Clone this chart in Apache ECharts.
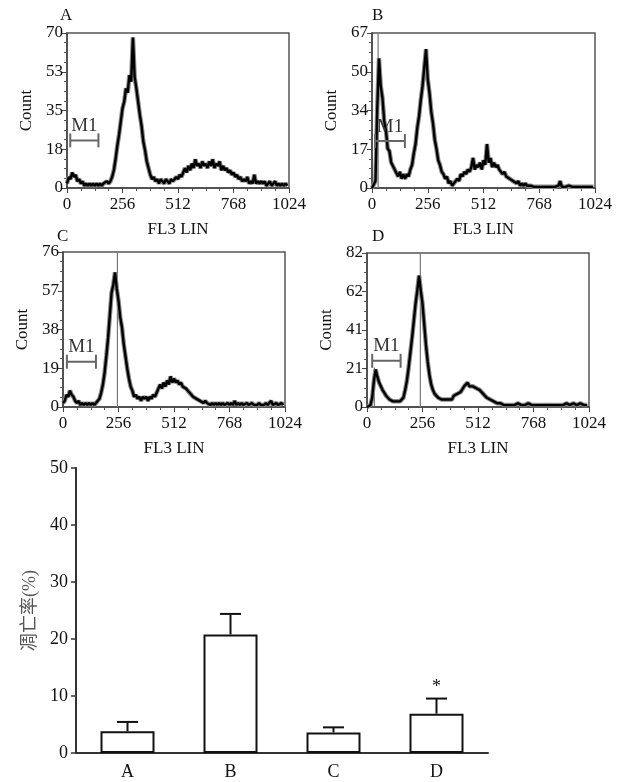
<!DOCTYPE html>
<html><head><meta charset="utf-8">
<script src="https://cdn.jsdelivr.net/npm/echarts@6.0.0/dist/echarts.min.js"></script>
<style>html,body{margin:0;padding:0;background:#fff}#c{width:625px;height:782px}</style>
</head><body><div id="c"></div><script>
// ---------- data ----------
const binStep = 8; // channel width of each histogram bin
const xTicks = [0, 256, 512, 768, 1024];
const countsA = [
2,5,4,7,5,6,3,4,2,3,1,2,1,2,1,2,
1,2,1,2,1,2,2,3,2,3,5,8,13,19,24,30,
36,39,45,43,51,48,68,50,45,39,33,28,21,17,12,9,
6,4,5,3,4,2,4,3,2,4,3,2,4,3,4,5,
4,6,5,7,9,7,10,8,11,9,13,10,11,9,12,10,
11,9,12,10,13,9,11,10,12,8,10,8,9,7,8,6,
7,5,6,4,5,3,4,3,5,2,3,2,6,2,3,2,
3,2,3,1,2,3,1,2,3,1,2,1,2,1,2,1];
const countsB = [
0,0,3,34,56,44,39,29,25,17,16,11,11,8,8,5,
7,4,6,4,6,5,8,10,15,19,26,31,38,44,52,60,
47,41,33,28,21,17,12,10,7,6,4,5,2,3,1,2,
2,4,3,6,5,7,6,8,7,9,13,8,10,9,11,8,
12,10,19,11,13,9,11,9,10,8,8,6,7,5,5,4,
4,3,3,2,3,1,2,1,2,1,1,1,1,0.5,1,0.5,
1,0.5,1,0.5,1,0.5,1,0.5,1,0.5,0.5,1,3,0.5,1,0.5,
0.5,1,0.5,0.5,1,0.5,0.5,0.5,1,0.5,0.5,0.5,0.5,0.5,0.5,0.5];
const countsC = [
2,3,6,5,8,6,5,3,2,3,1,2,1,2,1,2,
1,2,1,2,3,4,7,11,17,25,34,45,56,60,66,58,
52,44,39,31,25,19,14,10,8,5,6,4,5,3,5,4,
5,3,5,4,6,5,7,9,11,9,12,10,13,11,15,12,
14,12,13,11,12,10,10,9,8,7,7,5,5,4,4,3,
3,2,3,2,2,1,2,1,2,1,2,1,2,1,1,2,
1,2,1,3,1,2,1,2,1,1,2,1,1,2,1,1,
1,2,1,1,1,2,1,1,3,1,1,2,1,1,2,1];
const countsD = [
0,0,1,5,14,20,16,13,12,9,8,6,5,4,3,3,
2,3,2,3,3,5,9,14,21,29,37,46,55,62,70,62,
55,44,33,24,17,12,9,7,6,5,6,4,5,4,5,4,
5,4,6,5,7,6,8,9,11,10,13,11,12,11,12,10,
11,9,9,7,7,5,6,4,4,3,3,2,3,2,2,1,
2,1,2,1,2,1,1,2,1,1,2,1,1,2,1,1,
1,1,2,1,1,1,2,1,1,1,2,1,1,1,2,1,
1,1,1,2,1,1,1,2,1,1,1,2,1,1,2,1];
// off-scale single-channel spikes [channel, count]
const spikesA = [];
const spikesB = [[28, 67]];
const spikesC = [[251, 76]];
const spikesD = [[34, 21], [246, 82]];
// M1 gates [start, end] and level
const m1A = [15, 145], m1LevelA = 21.5;
const m1B = [14, 151], m1LevelB = 20.3;
const m1C = [18, 152], m1LevelC = 22.2;
const m1D = [24, 155], m1LevelD = 24.6;
const yMaxes = [70, 67, 76, 82];
const panelLetters = ['A', 'B', 'C', 'D'];

const categories = ['A', 'B', 'C', 'D'];
const rates = [3.8, 20.8, 3.6, 6.9];
const rateErr = [1.65, 3.6, 0.9, 2.65];
const sigMarks = ['', '', '', '*'];
const rateTicks = [0, 10, 20, 30, 40, 50];

// ---------- chart ----------
const SERIF = '"Liberation Serif","Times New Roman",serif';
const CJK = '"Liberation Serif","Noto Sans CJK SC",serif';
const grids = [
  {left: 67, top: 33, width: 222, height: 155},
  {left: 372, top: 33, width: 223, height: 155},
  {left: 63, top: 252, width: 222, height: 155},
  {left: 367, top: 253, width: 222, height: 154},
  {left: 76, top: 468, width: 412, height: 285}
];
const hist = [countsA, countsB, countsC, countsD];
const spikes = [spikesA, spikesB, spikesC, spikesD];
const m1s = [m1A, m1B, m1C, m1D];
const m1Levels = [m1LevelA, m1LevelB, m1LevelC, m1LevelD];

const xAxes = [], yAxes = [], series = [];
for (let k = 0; k < 4; k++) {
  xAxes.push({
    gridIndex: k, type: 'value', min: xTicks[0], max: xTicks[xTicks.length - 1],
    interval: xTicks[1] - xTicks[0],
    axisLine: {show: true, lineStyle: {color: '#444', width: 1.5}},
    axisTick: {show: true, length: 5, lineStyle: {color: '#444'}},
    minorTick: {show: true, splitNumber: 4, length: 3, lineStyle: {color: '#555'}},
    axisLabel: {fontFamily: SERIF, fontSize: 17, color: '#111', margin: 8,
      formatter: v => String(v)},
    splitLine: {show: false},
    name: 'FL3 LIN', nameLocation: 'middle', nameGap: 33,
    nameTextStyle: {fontFamily: SERIF, fontSize: 17, color: '#111'}
  });
  yAxes.push({
    gridIndex: k, type: 'value', min: 0, max: yMaxes[k], interval: yMaxes[k] / 4,
    axisLine: {show: true, lineStyle: {color: '#444', width: 1.5}},
    axisTick: {show: true, length: 5, lineStyle: {color: '#444'}},
    minorTick: {show: true, splitNumber: 4, length: 3, lineStyle: {color: '#555'}},
    axisLabel: {fontFamily: SERIF, fontSize: 17, color: '#111', margin: 4,
      formatter: v => String(Math.round(v))},
    splitLine: {show: false},
    name: 'Count', nameLocation: 'middle', nameGap: 32, nameRotate: 90,
    nameTextStyle: {fontFamily: SERIF, fontSize: 17, color: '#111'}
  });
  // soft grey fringe of the noisy histogram trace
  series.push({
    type: 'line', xAxisIndex: k, yAxisIndex: k, showSymbol: false, animation: false,
    data: hist[k].map((v, i) => [i * binStep, v]),
    lineStyle: {color: '#8a8a8a', width: 4.5}, z: 2
  });
  series.push({
    type: 'line', xAxisIndex: k, yAxisIndex: k, showSymbol: false, animation: false,
    data: hist[k].map((v, i) => [i * binStep, v]),
    lineStyle: {color: '#000', width: 2.4}, z: 3
  });
  series.push({
    type: 'bar', xAxisIndex: k, yAxisIndex: k, barWidth: 1.2, animation: false,
    data: spikes[k], itemStyle: {color: '#777'}, z: 2
  });
  const g = m1s[k], lv = m1Levels[k];
  series.push({
    type: 'line', xAxisIndex: k, yAxisIndex: k, animation: false,
    symbol: 'rect', symbolSize: [2, 14], showSymbol: true,
    itemStyle: {color: '#666'}, lineStyle: {color: '#666', width: 2}, z: 4,
    label: {show: true, position: 'top', distance: 5,
      formatter: p => (p.dataIndex === 1 ? 'M1' : ''),
      fontFamily: SERIF, fontSize: 19, color: '#333'},
    data: [
      {value: [g[0], lv]},
      {value: [(g[0] + g[1]) / 2, lv], symbolSize: 0},
      {value: [g[1], lv]}
    ]
  });
}

// bar chart
xAxes.push({
  gridIndex: 4, type: 'category', data: categories,
  axisLine: {show: true, lineStyle: {color: '#333', width: 2}},
  axisTick: {show: false},
  axisLabel: {fontFamily: SERIF, fontSize: 18, color: '#111', margin: 10}
});
yAxes.push({
  gridIndex: 4, type: 'value', min: rateTicks[0], max: rateTicks[rateTicks.length - 1],
  interval: rateTicks[1] - rateTicks[0],
  axisLine: {show: true, lineStyle: {color: '#333', width: 2}},
  axisTick: {show: true, length: 5, lineStyle: {color: '#333', width: 1.5}},
  axisLabel: {fontFamily: SERIF, fontSize: 18, color: '#111', margin: 8},
  splitLine: {show: false},
  name: '凋亡率(%)', nameLocation: 'middle', nameGap: 35, nameRotate: 90,
  nameTextStyle: {fontFamily: CJK, fontSize: 18, color: '#555'}
});
series.push({
  type: 'bar', xAxisIndex: 4, yAxisIndex: 4, barWidth: 54, animation: false,
  data: rates, itemStyle: {color: '#fff', borderColor: '#111', borderWidth: 2}
});
series.push({
  type: 'custom', xAxisIndex: 4, yAxisIndex: 4, animation: false, z: 5,
  data: categories.map((c, i) => [i, rates[i], rateErr[i]]),
  renderItem: function (params, api) {
    const i = api.value(0), m = api.value(1), e = api.value(2);
    const b = api.coord([i, m]), t = api.coord([i, m + e]);
    const hw = 10.5;
    const ch = [
      {type: 'line', shape: {x1: b[0], y1: b[1], x2: t[0], y2: t[1]}, style: {stroke: '#111', lineWidth: 2}},
      {type: 'line', shape: {x1: t[0] - hw, y1: t[1], x2: t[0] + hw, y2: t[1]}, style: {stroke: '#111', lineWidth: 2}}
    ];
    const s = sigMarks[params.dataIndex];
    if (s) ch.push({type: 'text', x: t[0], y: t[1] - 2,
      style: {text: s, align: 'center', verticalAlign: 'bottom', textAlign: 'center', textVerticalAlign: 'bottom',
              font: '18px ' + SERIF, fill: '#111'}});
    return {type: 'group', children: ch};
  }
});

const letterPos = [[60, 7], [372, 7], [57, 228], [372, 228]];
const option = {
  animation: false,
  backgroundColor: '#fff',
  grid: grids.map((g, k) => Object.assign({show: k < 4, borderColor: '#555', borderWidth: 1.5, backgroundColor: 'transparent'}, g)),
  xAxis: xAxes, yAxis: yAxes, series: series,
  graphic: panelLetters.map((l, k) => ({
    type: 'text', left: letterPos[k][0], top: letterPos[k][1],
    style: {text: l, font: '17px ' + SERIF, fill: '#111'}
  }))
};
const chart = echarts.init(document.getElementById('c'), null, {renderer: 'canvas'});
chart.setOption(option);
</script></body></html>
